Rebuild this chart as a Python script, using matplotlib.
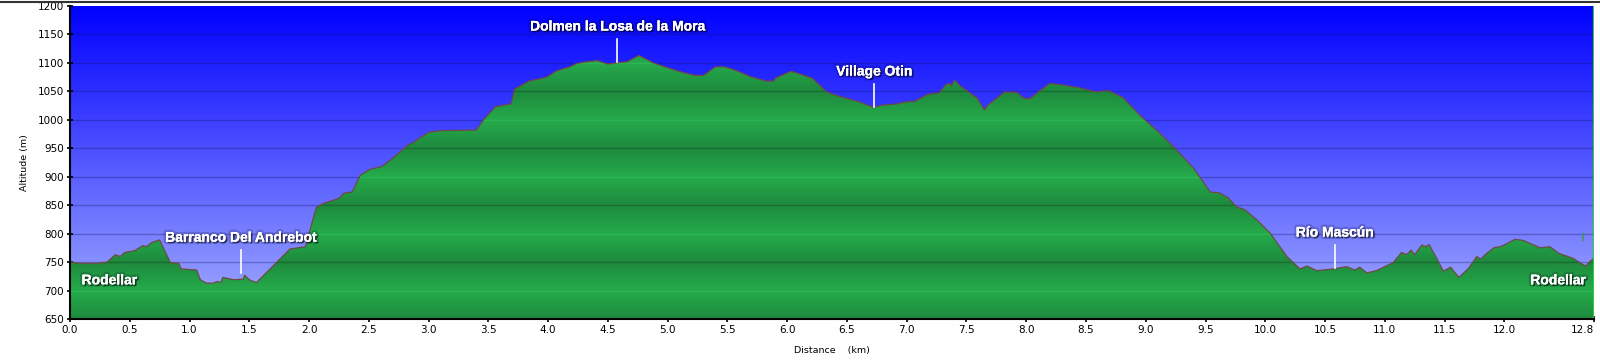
import numpy as np
import matplotlib.pyplot as plt
import matplotlib.patheffects as pe
from matplotlib.colors import LinearSegmentedColormap
from matplotlib.lines import Line2D

# elevation profile (km, m)
dist_km = [0.00, 0.08, 0.22, 0.31, 0.38, 0.42, 0.46, 0.54, 0.61, 0.64, 0.68, 0.75,
           0.84, 0.91, 0.93, 1.06, 1.09, 1.14, 1.20, 1.23, 1.26, 1.28, 1.37, 1.45,
           1.46, 1.50, 1.56, 1.84, 1.97, 2.02, 2.06, 2.12, 2.25, 2.29, 2.36, 2.43,
           2.51, 2.61, 2.68, 2.73, 2.83, 2.87, 3.00, 3.10, 3.40, 3.46, 3.56, 3.69,
           3.72, 3.84, 3.93, 3.99, 4.07, 4.18, 4.24, 4.32, 4.41, 4.50, 4.57, 4.66,
           4.76, 4.88, 5.02, 5.13, 5.23, 5.30, 5.40, 5.48, 5.58, 5.69, 5.82, 5.89,
           5.90, 6.03, 6.07, 6.21, 6.33, 6.44, 6.61, 6.72, 6.81, 6.92, 7.00, 7.06,
           7.18, 7.27, 7.33, 7.36, 7.37, 7.40, 7.45, 7.59, 7.65, 7.68, 7.82, 7.92,
           7.98, 8.03, 8.12, 8.20, 8.28, 8.45, 8.58, 8.69, 8.81, 8.95, 9.12, 9.23,
           9.40, 9.46, 9.54, 9.61, 9.69, 9.76, 9.83, 9.93, 10.04, 10.18, 10.29, 10.35,
           10.43, 10.57, 10.68, 10.75, 10.79, 10.85, 10.93, 11.07, 11.14, 11.18, 11.22, 11.25,
           11.31, 11.34, 11.37, 11.44, 11.49, 11.55, 11.62, 11.70, 11.77, 11.80, 11.84, 11.91,
           11.98, 12.09, 12.16, 12.30, 12.38, 12.46, 12.57, 12.68, 12.70, 12.75]
alt_m = [750, 748, 748, 750, 763, 760, 767, 770, 779, 777, 784, 789,
         749, 748, 738, 736, 719, 713, 713, 716, 714, 723, 719, 720,
         727, 719, 714, 773, 777, 815, 846, 853, 862, 871, 873, 903,
         913, 918, 929, 938, 956, 960, 978, 981, 982, 1000, 1023, 1028,
         1054, 1068, 1072, 1075, 1086, 1093, 1099, 1102, 1104, 1098, 1100, 1102,
         1113, 1100, 1090, 1083, 1078, 1078, 1093, 1093, 1086, 1076, 1068, 1068,
         1073, 1085, 1083, 1073, 1049, 1041, 1031, 1022, 1026, 1028, 1032, 1032,
         1045, 1047, 1062, 1064, 1059, 1070, 1059, 1038, 1017, 1026, 1049, 1048,
         1038, 1037, 1052, 1064, 1062, 1056, 1049, 1051, 1039, 1008, 976, 953,
         915, 897, 873, 872, 863, 847, 842, 824, 801, 760, 738, 743,
         735, 738, 742, 736, 741, 731, 735, 749, 767, 763, 771, 763,
         780, 777, 781, 754, 734, 741, 723, 739, 760, 755, 763, 775,
         778, 790, 788, 775, 777, 765, 757, 743, 748, 757]

# waypoints: name, km, altitude on profile, with pointer line or not
wp_names = ["Rodellar", "Barranco Del Andrebot", "Dolmen la Losa de la Mora",
            "Village Otin", "Río Mascún", "Rodellar"]
wp_km = [0.33, 1.43, 4.58, 6.73, 10.58, 12.45]
wp_alt = [718, 731, 1102, 1023, 740, 718]
wp_pointer = [False, True, True, True, True, False]

x_ticks = [0.0, 0.5, 1.0, 1.5, 2.0, 2.5, 3.0, 3.5, 4.0, 4.5, 5.0, 5.5, 6.0,
           6.5, 7.0, 7.5, 8.0, 8.5, 9.0, 9.5, 10.0, 10.5, 11.0, 11.5, 12.0, 12.75]
x_labels = ["0.0", "0.5", "1.0", "1.5", "2.0", "2.5", "3.0", "3.5", "4.0", "4.5",
            "5.0", "5.5", "6.0", "6.5", "7.0", "7.5", "8.0", "8.5", "9.0", "9.5",
            "10.0", "10.5", "11.0", "11.5", "12.0", "12.8"]
y_ticks = list(range(650, 1201, 50))

x_max = dist_km[-1]
y_min, y_max = 650, 1200

fig = plt.figure(figsize=(16, 3.64), dpi=100)
ax = fig.add_axes([70 / 1600, 1 - 319 / 364, 1524 / 1600, 313 / 364])
ax.set_xlim(0, x_max)
ax.set_ylim(y_min, y_max)

# sky gradient, deep blue at the top
sky = LinearSegmentedColormap.from_list("sky", ["#0000ff", "#a5afff"])
ax.imshow(np.linspace(0, 1, 256).reshape(-1, 1), cmap=sky, aspect="auto",
          extent=[0, x_max, y_min, y_max], origin="upper", zorder=0)

# grid lines behind the terrain
for y in y_ticks[1:-1]:
    ax.axhline(y, color="#10105a", alpha=0.3, lw=1, zorder=1)

# terrain fill with banded green shading
poly = ax.fill_between(dist_km, alt_m, y_min, color="none", lw=0, zorder=2)
levels = np.linspace(y_min, y_max, 1100)
band = np.abs((levels % 100) - 50) / 50.0
greens = LinearSegmentedColormap.from_list("greens", ["#1e8a3d", "#25ab4b"])
img = ax.imshow(band.reshape(-1, 1), cmap=greens, aspect="auto",
                extent=[0, x_max, y_min, y_max], origin="lower", zorder=2)
clip = poly.get_paths()[0]
img.set_clip_path(clip, transform=ax.transData)

for y in y_ticks[1:-1]:
    if y % 100 == 50:
        ln = ax.axhline(y, color="#186e31", lw=1, zorder=3)
    else:
        ln = ax.axhline(y, color="#2cb653", lw=1, zorder=3)
    ln.set_clip_path(clip, transform=ax.transData)

ax.plot(dist_km, alt_m, color="#6e4b45", lw=0.9, zorder=4)

# end marker on the right
ax.axvline(x_max, color="#2ecc40", lw=1.5, zorder=5)
ax.plot([12.655, 12.665], [788, 800], color="#3a9a3a", lw=1, zorder=5)

# waypoint labels
shadow = [pe.withStroke(linewidth=3.5, foreground=(0, 0, 0.1, 0.18)),
          pe.withSimplePatchShadow(offset=(1.2, -1.2), shadow_rgbFace="black", alpha=0.55),
          pe.Normal()]
for name, km, alt, ptr in zip(wp_names, wp_km, wp_alt, wp_pointer):
    if ptr:
        ax.plot([km, km], [alt, alt + 40], color="white", lw=1.2, zorder=6)
        ty = alt + 62
    else:
        ty = alt
    ax.text(km, ty, name, color="white", fontsize=10, fontweight="bold",
            family="Liberation Sans", ha="center", va="center", zorder=7,
            path_effects=shadow)

# axes styling
for s in ["top", "right"]:
    ax.spines[s].set_visible(False)
for s in ["left", "bottom"]:
    ax.spines[s].set_linewidth(1.5)
    ax.spines[s].set_zorder(8)
ax.set_xticks(x_ticks)
ax.set_xticklabels(x_labels)
ax.get_xticklabels()[-1].set_horizontalalignment("right")
ax.set_yticks(y_ticks)
ax.tick_params(axis="both", labelsize=7.5, direction="inout", length=5, width=1.2, pad=2)
ax.set_xlabel("Distance    (km)", fontsize=6.8, labelpad=8)
ax.set_ylabel("Altitude (m)", fontsize=6.8, labelpad=6)

# thin frame line along the top of the image
fig.add_artist(Line2D([0, 1], [1 - 1.5 / 364] * 2, transform=fig.transFigure,
                      color="#333333", lw=1.5))

fig.savefig("out.png", dpi=100)
